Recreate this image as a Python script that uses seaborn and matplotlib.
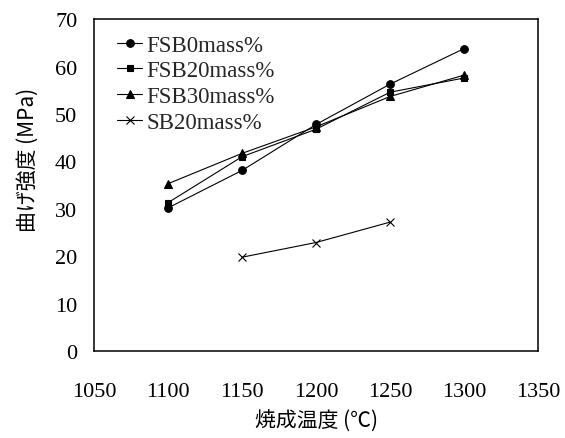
import numpy as np
import pandas as pd
import matplotlib
matplotlib.use("Agg")
import matplotlib.pyplot as plt
import seaborn as sns

temps = [1100, 1150, 1200, 1250, 1300]
fsb0 = [30.2, 38.1, 47.8, 56.3, 63.8]
fsb20 = [31.3, 41.0, 46.8, 54.6, 57.6]
fsb30 = [35.3, 41.7, 47.3, 53.7, 58.2]
sb20_temps = [1150, 1200, 1250]
sb20 = [19.8, 22.9, 27.2]
series_names = ["FSB0mass%", "FSB20mass%", "FSB30mass%", "SB20mass%"]
x_ticks = [1050, 1100, 1150, 1200, 1250, 1300, 1350]
y_ticks = [0, 10, 20, 30, 40, 50, 60, 70]

sns.set_theme(style="white")
plt.rcParams['font.family'] = ['Liberation Serif', 'Noto Sans CJK JP']

fig = plt.figure(figsize=(5.65, 4.39), dpi=100)
ax = fig.add_axes([0.1664, 0.198, 0.786, 0.756])

specs = [
    (series_names[0], temps, fsb0, "o", 5.5),
    (series_names[1], temps, fsb20, "s", 5),
    (series_names[2], temps, fsb30, "^", 6),
    (series_names[3], sb20_temps, sb20, "x", 6),
]
for name, xs, ys, mk, ms in specs:
    d = pd.DataFrame({"temp": xs, "strength": ys})
    sns.lineplot(data=d, x="temp", y="strength", marker=mk, markersize=ms,
                 color="black", linewidth=0.8, markeredgewidth=0.8,
                 markeredgecolor="black", label=name, ax=ax, sort=False)

ax.set_xlim(1050, 1350)
ax.set_ylim(0, 70)
ax.set_xticks(x_ticks)
ax.set_yticks(y_ticks)
ax.tick_params(axis='both', direction='in', length=6, width=1.0, labelsize=16,
               colors='black')
ax.tick_params(axis='y', pad=12)
ax.tick_params(axis='x', pad=22)
for s in ax.spines.values():
    s.set_color('black')
    s.set_linewidth(1.1)

ax.set_xlabel("焼成温度 (℃)", fontsize=15, family=['Noto Sans CJK JP'], color='black')
ax.set_ylabel("曲げ強度 (MPa)", fontsize=15, family=['Noto Sans CJK JP'], color='black')
ax.xaxis.set_label_coords(0.5, -0.175)
ax.yaxis.set_label_coords(-0.125, 0.578)

leg = ax.legend(loc="upper left", bbox_to_anchor=(0.052, 0.953), frameon=False,
                handlelength=1.1, handletextpad=0.18, labelspacing=0.2,
                borderaxespad=0.0, borderpad=0.0,
                prop={'family': 'Liberation Serif', 'size': 16.5})

fig.savefig("out.png", dpi=100)
